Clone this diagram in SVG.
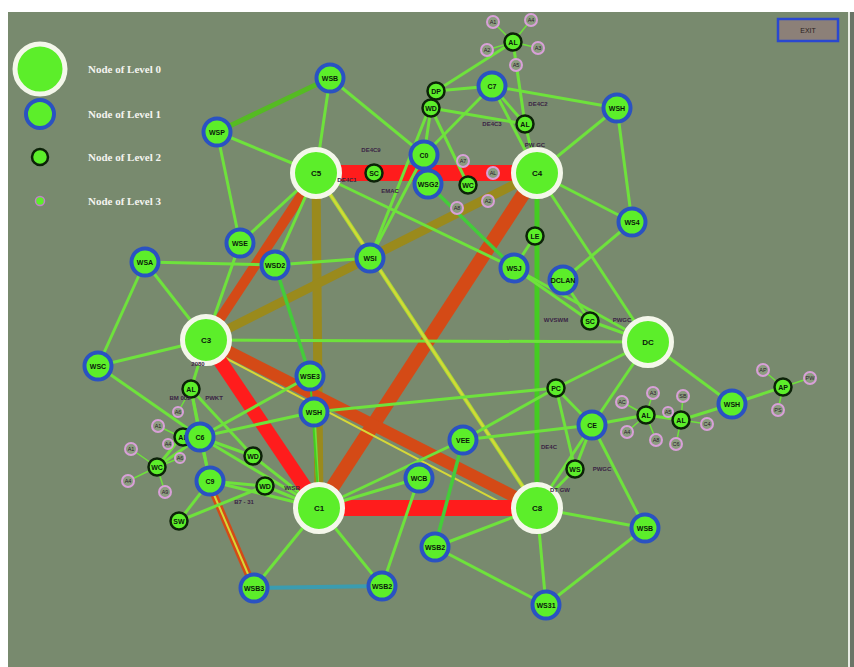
<svg xmlns="http://www.w3.org/2000/svg" width="854" height="667" viewBox="0 0 854 667">
<defs>
<style>
.e{stroke:#6ee23c;stroke-width:3;fill:none;stroke-linecap:round}
.eg{stroke:#44cc3a;stroke-width:3.5;fill:none}
.yl{stroke:#d6d838;stroke-width:2;fill:none}
.red{stroke:#ff1c1c;fill:none}
.org{stroke:#d44a16;fill:none}
.olv{stroke:#9a8a1c;fill:none}
.l0{fill:#5cee2a;stroke:#f4f7ea;stroke-width:5}
.l1{fill:#5cee2a;stroke:#2a52c2;stroke-width:4}
.l2{fill:#5cee2a;stroke:#0c2208;stroke-width:2.5}
.l3{fill:#8c9c80;stroke:#d8a0d8;stroke-width:2}
.t{font-family:"Liberation Sans",Arial,sans-serif;font-size:7px;font-weight:bold;fill:#0a1a0a;text-anchor:middle}
.t0{font-family:"Liberation Sans",Arial,sans-serif;font-size:8px;font-weight:bold;fill:#0a1a0a;text-anchor:middle}
.t3{font-family:"Liberation Sans",Arial,sans-serif;font-size:5.5px;fill:#2a1a2a;text-anchor:middle}
.pt{font-family:"Liberation Sans",Arial,sans-serif;font-size:6px;font-weight:bold;fill:#3a2444;text-anchor:middle}
.lg{font-family:"Liberation Serif","Times New Roman",serif;font-size:11px;font-weight:bold;fill:#f4f4f0}
</style>
</defs>
<rect x="0" y="0" width="854" height="667" fill="#ffffff"/>
<rect x="8" y="12" width="840" height="655" fill="#788a6e"/>
<rect x="848" y="12" width="2" height="655" fill="#e8ece4"/>
<rect x="850" y="12" width="4" height="655" fill="#6a7466"/>

<g id="legend">
<circle cx="40" cy="69" r="25" class="l0"/>
<text x="88" y="73" class="lg">Node of Level 0</text>
<circle cx="40" cy="114" r="14" class="l1"/>
<text x="88" y="118" class="lg">Node of Level 1</text>
<circle cx="40" cy="157" r="8" class="l2"/>
<text x="88" y="161" class="lg">Node of Level 2</text>
<circle cx="40" cy="201" r="4.5" fill="#5cee2a" stroke="#c080c8" stroke-width="1.5"/>
<text x="88" y="205" class="lg">Node of Level 3</text>
</g>

<g id="exit">
<rect x="778" y="19" width="60" height="22" fill="#8c8078" stroke="#2a48d0" stroke-width="2.5"/>
<text x="808" y="33" class="t" style="font-weight:normal;fill:#2a2020">EXIT</text>
</g>

<g id="connectors">
<line x1="316" y1="173" x2="537" y2="173" class="red" stroke-width="16"/>
<line x1="316" y1="173" x2="206" y2="340" class="org" stroke-width="10"/>
<line x1="316" y1="173" x2="319" y2="508" class="olv" stroke-width="9"/>
<line x1="206" y1="340" x2="537" y2="173" class="olv" stroke-width="9"/>
<line x1="537" y1="173" x2="319" y2="508" class="org" stroke-width="14"/>
<line x1="206" y1="340" x2="537" y2="508" class="org" stroke-width="12"/>
<line x1="214" y1="352" x2="530" y2="518" class="yl"/>
<line x1="206" y1="340" x2="319" y2="508" class="red" stroke-width="14"/>
<line x1="319" y1="508" x2="537" y2="508" class="red" stroke-width="16"/>
<line x1="537" y1="173" x2="537" y2="508" stroke="#44cc22" stroke-width="5"/>
<line x1="206" y1="340" x2="648" y2="342" class="e" stroke-width="4"/>
<line x1="316" y1="173" x2="537" y2="508" stroke="#a8dc34" stroke-width="4"/>
<line x1="316" y1="173" x2="537" y2="508" class="yl" stroke-width="1.2"/>
<line x1="212" y1="490" x2="254" y2="588" class="org" stroke-width="7"/>
<line x1="212" y1="490" x2="254" y2="588" class="yl" stroke-width="1.5"/>
<line x1="254" y1="588" x2="382" y2="586" stroke="#3a9cb0" stroke-width="4"/>
<line x1="217" y1="132" x2="330" y2="78" stroke="#55bb22" stroke-width="5"/>

<line x1="217" y1="132" x2="316" y2="173" class="e"/>
<line x1="217" y1="132" x2="240" y2="243" class="e"/>
<line x1="330" y1="78" x2="316" y2="173" class="e"/>
<line x1="330" y1="78" x2="424" y2="155" class="e"/>
<line x1="240" y1="243" x2="206" y2="340" class="e"/>
<line x1="240" y1="243" x2="316" y2="173" class="e"/>
<line x1="145" y1="262" x2="275" y2="265" class="e"/>
<line x1="275" y1="265" x2="316" y2="173" class="e"/>
<line x1="275" y1="265" x2="310" y2="376" class="eg"/>
<line x1="275" y1="265" x2="370" y2="258" class="e"/>
<line x1="370" y1="258" x2="424" y2="155" class="e"/>
<line x1="370" y1="258" x2="436" y2="91" class="e"/>
<line x1="431" y1="108" x2="424" y2="155" class="e"/>
<line x1="431" y1="108" x2="468" y2="185" class="e"/>
<line x1="316" y1="173" x2="514" y2="268" class="e"/>
<line x1="514" y1="268" x2="648" y2="342" class="e"/>
<line x1="428" y1="184" x2="514" y2="268" class="eg"/>
<line x1="492" y1="86" x2="424" y2="155" class="e"/>
<line x1="492" y1="86" x2="436" y2="91" class="e"/>
<line x1="492" y1="86" x2="617" y2="108" class="e"/>
<line x1="492" y1="86" x2="525" y2="124" class="e"/>
<line x1="492" y1="86" x2="537" y2="173" class="e"/>
<line x1="436" y1="91" x2="513" y2="42" class="e"/>
<line x1="431" y1="108" x2="525" y2="124" class="e"/>
<line x1="525" y1="124" x2="537" y2="173" class="e"/>
<line x1="525" y1="124" x2="513" y2="42" class="e"/>
<line x1="617" y1="108" x2="537" y2="173" class="e"/>
<line x1="617" y1="108" x2="632" y2="222" class="e"/>
<line x1="537" y1="173" x2="632" y2="222" class="e"/>
<line x1="537" y1="173" x2="648" y2="342" class="e"/>
<line x1="535" y1="236" x2="514" y2="268" class="e"/>
<line x1="632" y1="222" x2="563" y2="280" class="e"/>
<line x1="563" y1="280" x2="590" y2="321" class="e"/>
<line x1="514" y1="268" x2="590" y2="321" class="e"/>
<line x1="590" y1="321" x2="648" y2="342" class="e"/>

<line x1="648" y1="342" x2="556" y2="388" class="e"/>
<line x1="648" y1="342" x2="592" y2="425" class="e"/>
<line x1="648" y1="342" x2="732" y2="404" class="e"/>
<line x1="556" y1="388" x2="463" y2="440" class="e"/>
<line x1="556" y1="388" x2="592" y2="425" class="e"/>
<line x1="556" y1="388" x2="575" y2="469" class="e"/>
<line x1="314" y1="412" x2="556" y2="388" class="e"/>
<line x1="463" y1="440" x2="592" y2="425" class="e"/>
<line x1="463" y1="440" x2="319" y2="508" class="e"/>
<line x1="463" y1="440" x2="435" y2="547" class="eg"/>
<line x1="592" y1="425" x2="537" y2="508" class="e"/>
<line x1="592" y1="425" x2="575" y2="469" class="e"/>
<line x1="592" y1="425" x2="645" y2="528" class="e"/>
<line x1="592" y1="425" x2="646" y2="415" class="e"/>
<line x1="646" y1="415" x2="681" y2="420" class="e"/>
<line x1="681" y1="420" x2="732" y2="404" class="e"/>
<line x1="732" y1="404" x2="783" y2="387" class="e"/>
<line x1="575" y1="469" x2="537" y2="508" class="e"/>
<line x1="537" y1="508" x2="645" y2="528" class="e"/>
<line x1="537" y1="508" x2="546" y2="605" class="e"/>
<line x1="537" y1="508" x2="435" y2="547" class="e"/>
<line x1="645" y1="528" x2="546" y2="605" class="e"/>
<line x1="435" y1="547" x2="546" y2="605" class="e"/>
<line x1="419" y1="478" x2="319" y2="508" class="e"/>
<line x1="419" y1="478" x2="382" y2="586" class="e"/>
<line x1="319" y1="508" x2="382" y2="586" class="e"/>
<line x1="319" y1="508" x2="254" y2="588" class="e"/>
<line x1="314" y1="412" x2="319" y2="508" class="e"/>
<line x1="310" y1="376" x2="319" y2="508" stroke="#44cc22" stroke-width="2"/>

<line x1="145" y1="262" x2="206" y2="340" class="e"/>
<line x1="145" y1="262" x2="98" y2="366" class="e"/>
<line x1="98" y1="366" x2="206" y2="340" class="e"/>
<line x1="98" y1="366" x2="200" y2="437" class="e"/>
<line x1="206" y1="340" x2="191" y2="389" class="e"/>
<line x1="191" y1="389" x2="200" y2="437" class="e"/>
<line x1="191" y1="389" x2="253" y2="456" class="e"/>
<line x1="191" y1="389" x2="210" y2="481" class="e"/>
<line x1="200" y1="437" x2="310" y2="376" class="e"/>
<line x1="200" y1="437" x2="314" y2="412" class="e"/>
<line x1="200" y1="437" x2="253" y2="456" class="e"/>
<line x1="200" y1="437" x2="210" y2="481" class="e"/>
<line x1="200" y1="437" x2="319" y2="508" class="e"/>
<line x1="210" y1="481" x2="319" y2="508" class="e"/>
<line x1="210" y1="481" x2="265" y2="486" class="e"/>
<line x1="210" y1="481" x2="179" y2="521" class="e"/>
<line x1="179" y1="521" x2="265" y2="486" class="e"/>
<line x1="253" y1="456" x2="319" y2="508" class="e"/>
<line x1="265" y1="486" x2="319" y2="508" class="e"/>
<line x1="181" y1="437" x2="157" y2="467" class="e"/>
<line x1="157" y1="467" x2="200" y2="437" class="e"/>

<g stroke="#6ee23c" stroke-width="1.5">
<line x1="513" y1="42" x2="493" y2="22"/><line x1="513" y1="42" x2="531" y2="20"/><line x1="513" y1="42" x2="538" y2="48"/><line x1="513" y1="42" x2="487" y2="50"/><line x1="513" y1="42" x2="516" y2="65"/>
<line x1="646" y1="415" x2="653" y2="393"/><line x1="646" y1="415" x2="622" y2="402"/><line x1="646" y1="415" x2="627" y2="432"/><line x1="646" y1="415" x2="656" y2="440"/>
<line x1="681" y1="420" x2="683" y2="396"/><line x1="681" y1="420" x2="676" y2="444"/><line x1="681" y1="420" x2="707" y2="424"/><line x1="681" y1="420" x2="668" y2="412"/>
<line x1="783" y1="387" x2="763" y2="370"/><line x1="783" y1="387" x2="810" y2="378"/><line x1="783" y1="387" x2="778" y2="410"/>
<line x1="157" y1="467" x2="131" y2="449"/><line x1="157" y1="467" x2="128" y2="481"/><line x1="157" y1="467" x2="165" y2="492"/><line x1="157" y1="467" x2="180" y2="458"/>
<line x1="181" y1="437" x2="158" y2="426"/><line x1="181" y1="437" x2="168" y2="444"/><line x1="191" y1="389" x2="178" y2="412"/>
</g>
</g>

<g id="C5"><circle cx="316" cy="173" r="23.5" class="l0"/><text x="316" y="176" class="t0">C5</text></g>
<g id="C4"><circle cx="537" cy="173" r="23.5" class="l0"/><text x="537" y="176" class="t0">C4</text></g>
<g id="C3"><circle cx="206" cy="340" r="23.5" class="l0"/><text x="206" y="343" class="t0">C3</text></g>
<g id="DC"><circle cx="648" cy="342" r="23.5" class="l0"/><text x="648" y="345" class="t0">DC</text></g>
<g id="C1"><circle cx="319" cy="508" r="23.5" class="l0"/><text x="319" y="511" class="t0">C1</text></g>
<g id="C8"><circle cx="537" cy="508" r="23.5" class="l0"/><text x="537" y="511" class="t0">C8</text></g>

<g id="WSP"><circle cx="217" cy="132" r="13.5" class="l1"/><text x="217" y="134.5" class="t">WSP</text></g>
<g id="WSB"><circle cx="330" cy="78" r="13.5" class="l1"/><text x="330" y="80.5" class="t">WSB</text></g>
<g id="C0"><circle cx="424" cy="155" r="13.5" class="l1"/><text x="424" y="157.5" class="t">C0</text></g>
<g id="WSG2"><circle cx="428" cy="184" r="13.5" class="l1"/><text x="428" y="186.5" class="t">WSG2</text></g>
<g id="C7"><circle cx="492" cy="86" r="13.5" class="l1"/><text x="492" y="88.5" class="t">C7</text></g>
<g id="WSH"><circle cx="617" cy="108" r="13.5" class="l1"/><text x="617" y="110.5" class="t">WSH</text></g>
<g id="WS4"><circle cx="632" cy="222" r="13.5" class="l1"/><text x="632" y="224.5" class="t">WS4</text></g>
<g id="WSE"><circle cx="240" cy="243" r="13.5" class="l1"/><text x="240" y="245.5" class="t">WSE</text></g>
<g id="WSD2"><circle cx="275" cy="265" r="13.5" class="l1"/><text x="275" y="267.5" class="t">WSD2</text></g>
<g id="WSA"><circle cx="145" cy="262" r="13.5" class="l1"/><text x="145" y="264.5" class="t">WSA</text></g>
<g id="WSC"><circle cx="98" cy="366" r="13.5" class="l1"/><text x="98" y="368.5" class="t">WSC</text></g>
<g id="WSI"><circle cx="370" cy="258" r="13.5" class="l1"/><text x="370" y="260.5" class="t">WSI</text></g>
<g id="WSJ"><circle cx="514" cy="268" r="13.5" class="l1"/><text x="514" y="270.5" class="t">WSJ</text></g>
<g id="DCLAN"><circle cx="563" cy="280" r="13.5" class="l1"/><text x="563" y="282.5" class="t">DCLAN</text></g>
<g id="WSE3"><circle cx="310" cy="376" r="13.5" class="l1"/><text x="310" y="378.5" class="t">WSE3</text></g>
<g id="WSH2"><circle cx="314" cy="412" r="13.5" class="l1"/><text x="314" y="414.5" class="t">WSH</text></g>
<g id="VEE"><circle cx="463" cy="440" r="13.5" class="l1"/><text x="463" y="442.5" class="t">VEE</text></g>
<g id="CE"><circle cx="592" cy="425" r="13.5" class="l1"/><text x="592" y="427.5" class="t">CE</text></g>
<g id="C9"><circle cx="210" cy="481" r="13.5" class="l1"/><text x="210" y="483.5" class="t">C9</text></g>
<g id="WCB"><circle cx="419" cy="478" r="13.5" class="l1"/><text x="419" y="480.5" class="t">WCB</text></g>
<g id="WSB2"><circle cx="435" cy="547" r="13.5" class="l1"/><text x="435" y="549.5" class="t">WSB2</text></g>
<g id="WSB3"><circle cx="254" cy="588" r="13.5" class="l1"/><text x="254" y="590.5" class="t">WSB3</text></g>
<g id="WSB4"><circle cx="382" cy="586" r="13.5" class="l1"/><text x="382" y="588.5" class="t">WSB2</text></g>
<g id="WS31"><circle cx="546" cy="605" r="13.5" class="l1"/><text x="546" y="607.5" class="t">WS31</text></g>
<g id="WSB5"><circle cx="645" cy="528" r="13.5" class="l1"/><text x="645" y="530.5" class="t">WSB</text></g>
<g id="WSH3"><circle cx="732" cy="404" r="13.5" class="l1"/><text x="732" y="406.5" class="t">WSH</text></g>

<g id="L2a"><circle cx="513" cy="42" r="8.5" class="l2"/><text x="513" y="44.5" class="t">AL</text></g>
<g id="L2b"><circle cx="436" cy="91" r="8.5" class="l2"/><text x="436" y="93.5" class="t">DP</text></g>
<g id="L2c"><circle cx="431" cy="108" r="8.5" class="l2"/><text x="431" y="110.5" class="t">WD</text></g>
<g id="L2d"><circle cx="525" cy="124" r="8.5" class="l2"/><text x="525" y="126.5" class="t">AL</text></g>
<g id="L2e"><circle cx="374" cy="173" r="8.5" class="l2"/><text x="374" y="175.5" class="t">SC</text></g>
<g id="L2f"><circle cx="468" cy="185" r="8.5" class="l2"/><text x="468" y="187.5" class="t">WC</text></g>
<g id="L2g"><circle cx="535" cy="236" r="8.5" class="l2"/><text x="535" y="238.5" class="t">LE</text></g>
<g id="L2h"><circle cx="590" cy="321" r="8.5" class="l2"/><text x="590" y="323.5" class="t">SC</text></g>
<g id="L2i"><circle cx="556" cy="388" r="8.5" class="l2"/><text x="556" y="390.5" class="t">PC</text></g>
<g id="L2j"><circle cx="575" cy="469" r="8.5" class="l2"/><text x="575" y="471.5" class="t">WS</text></g>
<g id="L2k"><circle cx="646" cy="415" r="8.5" class="l2"/><text x="646" y="417.5" class="t">AL</text></g>
<g id="L2l"><circle cx="681" cy="420" r="8.5" class="l2"/><text x="681" y="422.5" class="t">AL</text></g>
<g id="L2m"><circle cx="783" cy="387" r="8.5" class="l2"/><text x="783" y="389.5" class="t">AP</text></g>
<g id="L2n"><circle cx="191" cy="389" r="8.5" class="l2"/><text x="191" y="391.5" class="t">AL</text></g>
<g id="L2o"><circle cx="183" cy="437" r="8.5" class="l2"/><text x="183" y="439.5" class="t">AL</text></g>
<g id="C6"><circle cx="200" cy="437" r="13.5" class="l1"/><text x="200" y="439.5" class="t">C6</text></g>
<g id="L2p"><circle cx="157" cy="467" r="8.5" class="l2"/><text x="157" y="469.5" class="t">WC</text></g>
<g id="L2q"><circle cx="253" cy="456" r="8.5" class="l2"/><text x="253" y="458.5" class="t">WD</text></g>
<g id="L2r"><circle cx="265" cy="486" r="8.5" class="l2"/><text x="265" y="488.5" class="t">WD</text></g>
<g id="L2s"><circle cx="179" cy="521" r="8.5" class="l2"/><text x="179" y="523.5" class="t">SW</text></g>

<g id="L3top">
<circle cx="493" cy="22" r="6" class="l3"/><text x="493" y="24" class="t3">A1</text>
<circle cx="531" cy="20" r="6" class="l3"/><text x="531" y="22" class="t3">A4</text>
<circle cx="538" cy="48" r="6" class="l3"/><text x="538" y="50" class="t3">A3</text>
<circle cx="487" cy="50" r="6" class="l3"/><text x="487" y="52" class="t3">A2</text>
<circle cx="516" cy="65" r="6" class="l3"/><text x="516" y="67" class="t3">A5</text>
</g>
<g id="L3mid">
<circle cx="463" cy="161" r="6" class="l3"/><text x="463" y="163" class="t3">A7</text>
<circle cx="493" cy="173" r="6" class="l3"/><text x="493" y="175" class="t3">AL</text>
<circle cx="457" cy="208" r="6" class="l3"/><text x="457" y="210" class="t3">A8</text>
<circle cx="488" cy="201" r="6" class="l3"/><text x="488" y="203" class="t3">A2</text>
</g>
<g id="L3right">
<circle cx="653" cy="393" r="6" class="l3"/><text x="653" y="395" class="t3">A3</text>
<circle cx="622" cy="402" r="6" class="l3"/><text x="622" y="404" class="t3">AC</text>
<circle cx="627" cy="432" r="6" class="l3"/><text x="627" y="434" class="t3">A4</text>
<circle cx="656" cy="440" r="6" class="l3"/><text x="656" y="442" class="t3">A8</text>
<circle cx="683" cy="396" r="6" class="l3"/><text x="683" y="398" class="t3">SB</text>
<circle cx="676" cy="444" r="6" class="l3"/><text x="676" y="446" class="t3">C6</text>
<circle cx="707" cy="424" r="6" class="l3"/><text x="707" y="426" class="t3">C4</text>
<circle cx="668" cy="412" r="5" class="l3"/><text x="668" y="414" class="t3">A5</text>
<circle cx="763" cy="370" r="6" class="l3"/><text x="763" y="372" class="t3">AP</text>
<circle cx="810" cy="378" r="6" class="l3"/><text x="810" y="380" class="t3">PW</text>
<circle cx="778" cy="410" r="6" class="l3"/><text x="778" y="412" class="t3">PS</text>
</g>
<g id="L3left">
<circle cx="131" cy="449" r="6" class="l3"/><text x="131" y="451" class="t3">A1</text>
<circle cx="128" cy="481" r="6" class="l3"/><text x="128" y="483" class="t3">A4</text>
<circle cx="165" cy="492" r="6" class="l3"/><text x="165" y="494" class="t3">A9</text>
<circle cx="180" cy="458" r="5" class="l3"/><text x="180" y="460" class="t3">A6</text>
<circle cx="158" cy="426" r="6" class="l3"/><text x="158" y="428" class="t3">A1</text>
<circle cx="168" cy="444" r="5" class="l3"/><text x="168" y="446" class="t3">A4</text>
<circle cx="178" cy="412" r="5" class="l3"/><text x="178" y="414" class="t3">A6</text>
</g>

<g id="labels">
<text x="538" y="106" class="pt">DE4C2</text>
<text x="492" y="126" class="pt">DE4C3</text>
<text x="535" y="147" class="pt">PW GC</text>
<text x="371" y="152" class="pt">DE4C9</text>
<text x="347" y="182" class="pt">DE4C1</text>
<text x="390" y="193" class="pt">EMAC</text>
<text x="198" y="366" class="pt">2080</text>
<text x="180" y="400" class="pt">BM 002</text>
<text x="214" y="400" class="pt">PWKT</text>
<text x="556" y="322" class="pt">WVSWM</text>
<text x="622" y="322" class="pt">PWGC</text>
<text x="549" y="449" class="pt">DE4C</text>
<text x="602" y="471" class="pt">PWGC</text>
<text x="560" y="492" class="pt">DT GW</text>
<text x="244" y="504" class="pt">B7 - 31</text>
<text x="292" y="490" class="pt">W/SB</text>
</g>
</svg>
